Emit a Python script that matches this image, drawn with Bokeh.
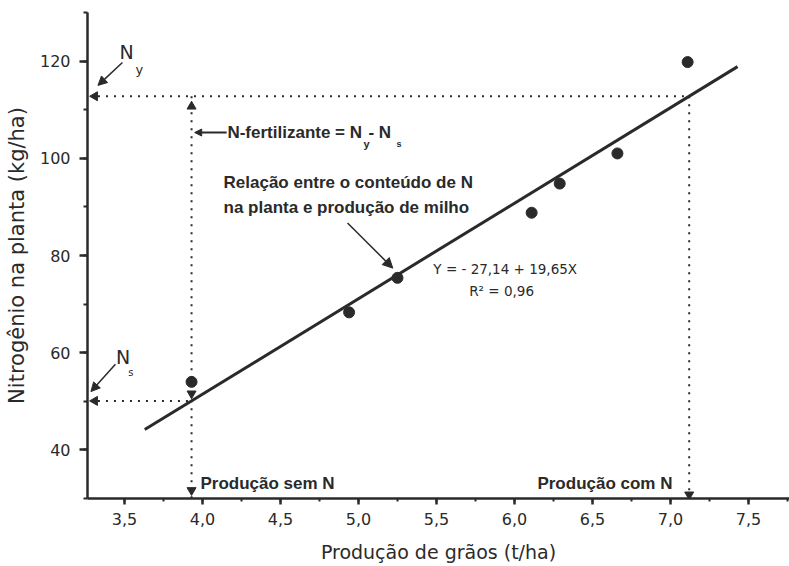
import numpy as np
from bokeh.plotting import figure
from bokeh.models import (Range1d, SingleIntervalTicker, CustomJSTickFormatter,
                          Arrow, NormalHead, Label)
from bokeh.embed import file_html
from bokeh.resources import INLINE

# ---- data ----
prod_graos = [3.93, 4.94, 5.25, 6.11, 6.29, 6.66, 7.11]      # t/ha
n_planta = [54.0, 68.3, 75.4, 88.8, 94.8, 101.0, 119.8]       # kg/ha
fit_intercept = -27.14
fit_slope = 19.65
fit_x = [3.63, 7.43]
prod_sem_n = 3.93
prod_com_n = 7.12
n_s = fit_intercept + fit_slope * prod_sem_n
n_y = fit_intercept + fit_slope * prod_com_n
x_start, x_end = 3.263, 7.763
y_start, y_end = 30, 130

INK = "#2a2a2a"
SANS = "DejaVu Sans"
BOLD = "Liberation Sans"

p = figure(width=789, height=566, x_range=Range1d(x_start, x_end),
           y_range=Range1d(y_start, y_end), output_backend="svg",
           toolbar_location=None, min_border_left=87, min_border_right=0,
           min_border_top=12, min_border_bottom=68)
p.outline_line_color = None
p.grid.grid_line_color = None
p.background_fill_color = "white"

p.xaxis.ticker = SingleIntervalTicker(interval=0.5, num_minor_ticks=2)
p.yaxis.ticker = SingleIntervalTicker(interval=20, num_minor_ticks=2)
p.xaxis.formatter = CustomJSTickFormatter(code="return tick.toFixed(1).replace('.', ',');")

for ax in (p.xaxis, p.yaxis):
    ax.axis_line_width = 2.5
    ax.axis_line_color = INK
    ax.major_tick_line_color = INK
    ax.minor_tick_line_color = INK
    ax.major_tick_line_width = 2.5
    ax.minor_tick_line_width = 2
    ax.major_tick_in = 0
    ax.minor_tick_in = 0
    ax.major_label_text_font = SANS
    ax.major_label_text_font_size = "16px"
    ax.major_label_text_color = INK
    ax.axis_label_text_font = SANS
    ax.axis_label_text_font_style = "normal"
    ax.axis_label_text_color = INK

p.xaxis.major_tick_out = 6
p.xaxis.minor_tick_out = 3
p.xaxis.major_label_standoff = 8
p.xaxis.axis_label = "Produção de grãos (t/ha)"
p.xaxis.axis_label_text_font_size = "19px"
p.xaxis.axis_label_standoff = 13

p.yaxis.major_tick_out = 8
p.yaxis.minor_tick_out = 4
p.yaxis.major_label_standoff = 9
p.yaxis.axis_label = "Nitrogênio na planta (kg/ha)"
p.yaxis.axis_label_text_font_size = "21px"
p.yaxis.axis_label_standoff = 8

# dotted guide lines
dot = dict(line_color=INK, line_width=2, line_dash="2 6")
p.line([3.33, prod_com_n], [n_y, n_y], **dot)
p.line([3.33, prod_sem_n], [n_s, n_s], **dot)
p.line([prod_sem_n, prod_sem_n], [n_y, y_start], **dot)
p.line([prod_com_n, prod_com_n], [n_y, y_start], **dot)

# regression line
fx = np.array(fit_x)
p.line(fx, fit_intercept + fit_slope * fx, line_color=INK, line_width=3)

# data points
p.scatter(prod_graos, n_planta, size=11, color=INK)

# markers on guides
p.scatter([3.31, 3.31], [n_y, n_s], marker="triangle", angle=np.pi / 2,
          size=9, color=INK)
p.scatter([prod_sem_n], [n_y - 2.1], marker="triangle", size=9, color=INK)
p.scatter([prod_sem_n, prod_sem_n, prod_com_n], [n_s + 1.5, 31.7, 30.8],
          marker="inverted_triangle", size=9, color=INK)

# arrows
def arrow(x0, y0, x1, y1, size=9, lw=1.5):
    p.add_layout(Arrow(end=NormalHead(size=size, fill_color=INK, line_color=INK),
                       x_start=x0, y_start=y0, x_end=x1, y_end=y1,
                       line_color=INK, line_width=lw))

arrow(3.487, 119.7, 3.33, 115.0)
arrow(3.442, 57.6, 3.285, 52.0)
arrow(4.155, 105.3, 3.95, 105.3, size=7, lw=2)
arrow(4.93, 86.7, 5.22, 77.4, size=10)

def label(x, y, text, size, font=SANS, style="normal"):
    p.add_layout(Label(x=x, y=y, text=text, text_font=font,
                       text_font_size=size, text_font_style=style,
                       text_color=INK, text_baseline="middle",
                       text_align="left"))

label(3.468, 121.8, "N", "19px")
label(3.571, 118.3, "y", "13px")
label(3.445, 59.2, "N", "19px")
label(3.524, 56.0, "s", "10px")

label(4.16, 105.3, "N-fertilizante = N", "17px", BOLD, "bold")
label(5.032, 103.0, "y", "11px", BOLD, "bold")
label(5.064, 105.3, " - N", "17px", BOLD, "bold")
label(5.244, 103.0, "s", "9px", BOLD, "bold")

label(4.135, 95.0, "Relação entre o conteúdo de N", "17px", BOLD, "bold")
label(4.135, 89.8, "na planta e produção de milho", "17px", BOLD, "bold")

label(5.48, 77.2, "Y = - 27,14 + 19,65X", "13.5px")
label(5.71, 72.6, "R² = 0,96", "13.5px")

label(3.987, 33.0, "Produção sem N", "17px", BOLD, "bold")
label(6.147, 33.0, "Produção com N", "17px", BOLD, "bold")

open("out.html", "w").write(file_html(p, INLINE))
